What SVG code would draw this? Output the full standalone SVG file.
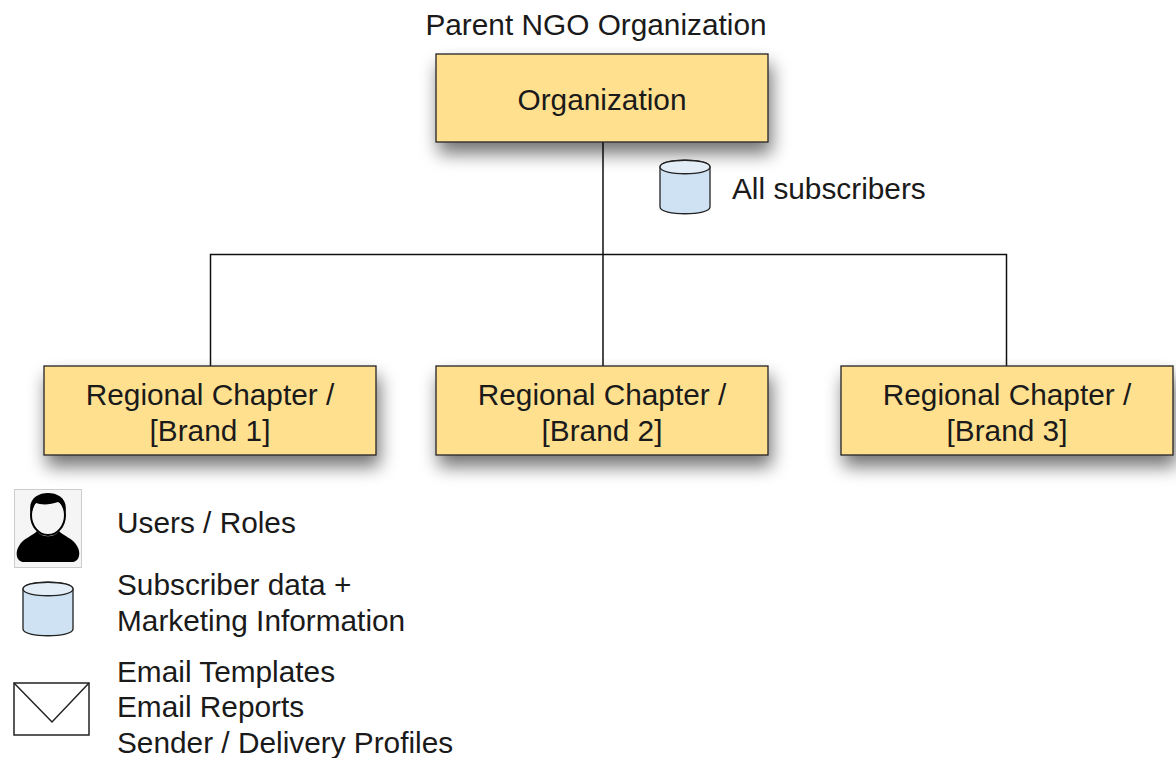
<svg xmlns="http://www.w3.org/2000/svg" width="1176" height="758" viewBox="0 0 1176 758">
<defs>
<filter id="sh" x="-10%" y="-20%" width="125%" height="190%"><feGaussianBlur in="SourceAlpha" stdDeviation="9"/><feOffset dx="3" dy="11"/><feComponentTransfer><feFuncA type="linear" slope="0.55"/></feComponentTransfer><feMerge><feMergeNode/><feMergeNode in="SourceGraphic"/></feMerge></filter>
<g id="cyl"><path d="M0 7C0 -2 50 -2 50 7V47C50 56 0 56 0 47Z" fill="#cfe2f3" stroke="#222" stroke-width="1.3"/><path d="M0 7C0 -2 50 -2 50 7C50 16 0 16 0 7Z" fill="#e2edf7" stroke="#222" stroke-width="1.3"/></g>
</defs>
<style>
text{font-family:"Liberation Sans",Arial,sans-serif;font-size:29.8px;fill:#1a1a1a}
.n rect{fill:#ffe08f;stroke:#222;stroke-width:1.3;filter:url(#sh)}
.m{text-anchor:middle}
</style>
<rect width="1176" height="758" fill="#fff"/>
<g id="connectors" fill="none" stroke="#111" stroke-width="1.5"><path d="M603 142V366M210.500 366V254.500H1006.500V366"/></g>
<text class="m" x="596" y="35">Parent NGO Organization</text>
<g id="org" class="n"><rect x="436" y="54" width="332" height="88"/><text class="m" x="602" y="110">Organization</text></g>
<g id="all"><use href="#cyl" x="660" y="160"/><text x="732" y="199">All subscribers</text></g>
<g id="b1" class="n"><rect x="44" y="366" width="332" height="89"/><text class="m" x="210" y="405">Regional Chapter /</text><text class="m" x="210" y="441">[Brand 1]</text></g>
<g id="b2" class="n"><rect x="436" y="366" width="332" height="89"/><text class="m" x="602" y="405">Regional Chapter /</text><text class="m" x="602" y="441">[Brand 2]</text></g>
<g id="b3" class="n"><rect x="841" y="366" width="332" height="89"/><text class="m" x="1007" y="405">Regional Chapter /</text><text class="m" x="1007" y="441">[Brand 3]</text></g>
<g id="legend-users"><rect x="14.500" y="489.500" width="67" height="78" fill="#f5f5f5" stroke="#ccc"/><path d="M24 562C16 562 15 552 19 546C23 538 33 536 37 531C42 538 54 538 59 531C63 536 73 538 77 546C81 552 80 562 72 562Z" fill="#000"/><ellipse cx="48" cy="515" rx="17" ry="20" fill="#f5f5f5" stroke="#000" stroke-width="2"/><path d="M31 514C27 499 38 493 48 493C58 493 69 499 65 514C63 508 62 504 58 502C50 505 41 505 36 503C33 506 33 510 31 514Z" fill="#000"/><text x="117" y="533">Users / Roles</text></g>
<g id="legend-data"><use href="#cyl" x="23" y="582"/><text x="117" y="595">Subscriber data +</text><text x="117" y="631">Marketing Information</text></g>
<g id="legend-email"><rect x="14" y="683" width="75" height="52" fill="#fff" stroke="#222" stroke-width="1.5"/><path d="M14 683L52 722L89 683" fill="none" stroke="#222" stroke-width="1.5"/><text x="117" y="682">Email Templates</text><text x="117" y="717">Email Reports</text><text x="117" y="753">Sender / Delivery Profiles</text></g>
</svg>
